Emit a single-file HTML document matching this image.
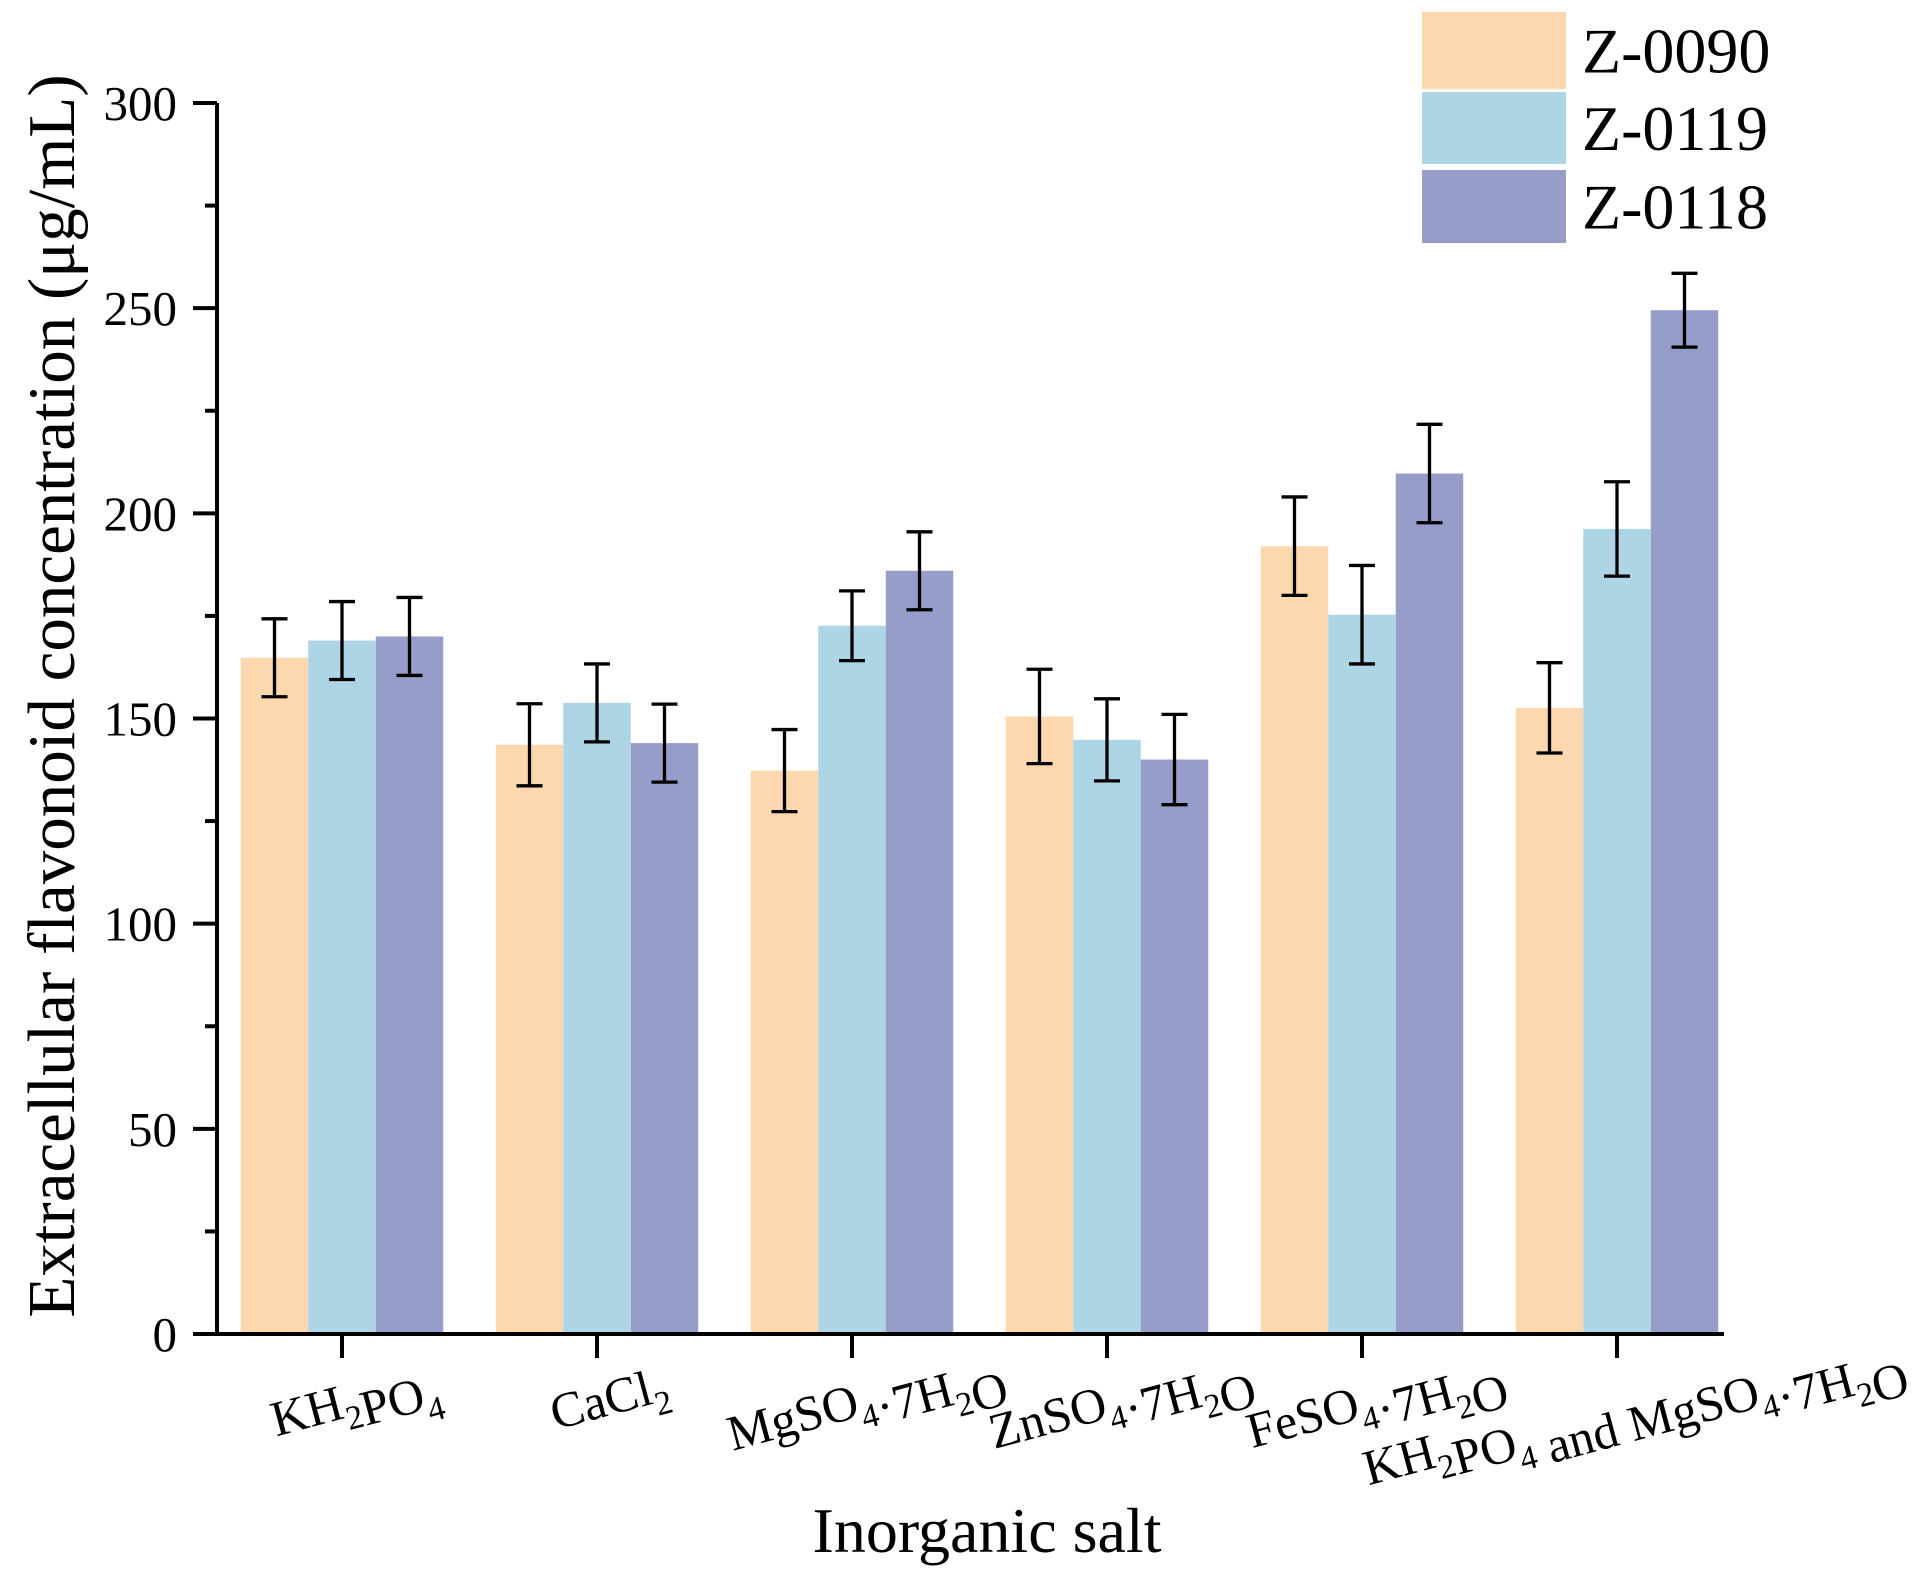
<!DOCTYPE html>
<html><head><meta charset="utf-8"><style>
html,body{margin:0;padding:0;background:#fff;}
svg{display:block;font-family:"Liberation Serif",serif;}
</style></head><body>
<svg id="chart" width="1924" height="1576" viewBox="0 0 1924 1576"></svg>
<script>
const categories = ["KH2PO4","CaCl2","MgSO4·7H2O","ZnSO4·7H2O","FeSO4·7H2O","KH2PO4 and MgSO4·7H2O"];
const seriesNames = ["Z-0090","Z-0119","Z-0118"];
const z0090 = [164.8,143.6,137.3,150.5,192,152.6];
const z0119 = [169,153.8,172.6,144.8,175.3,196.2];
const z0118 = [170,144,186,140,209.7,249.5];
const err0090 = [9.5,10,10,11.5,12,11];
const err0119 = [9.5,9.5,8.5,10,12,11.5];
const err0118 = [9.5,9.5,9.5,11,12,9];
const yTicks = [0,50,100,150,200,250,300];

const NS="http://www.w3.org/2000/svg";
const svg=document.getElementById('chart');
const colors=["#FDD7AE","#AED5E6","#969DC8"];
const values=[z0090,z0119,z0118], errs=[err0090,err0119,err0118];
const X0=217,Y0=1334,Y300=103;
const y=v=>Y0-(v/300)*(Y0-Y300);
const gx=i=>342+i*255;
const BW=67.5;
function mk(tag,attrs,parent){const e=document.createElementNS(NS,tag);for(const k in attrs)e.setAttribute(k,attrs[k]);(parent||svg).appendChild(e);return e;}

values.forEach((arr,s)=>{arr.forEach((v,i)=>{
  const cx=gx(i)+(s-1)*BW;
  const r=mk('rect',{x:cx-BW/2,y:y(v),width:BW,height:Y0-y(v),fill:colors[s]});
  
  
});});
values.forEach((arr,s)=>{arr.forEach((v,i)=>{
  const cx=gx(i)+(s-1)*BW, e=errs[s][i];
  const g=mk('g',{stroke:'#000','stroke-width':3.3,fill:'none'});
  
  
  mk('line',{x1:cx,x2:cx,y1:y(v+e),y2:y(v-e)},g);
  mk('line',{x1:cx-13,x2:cx+13,y1:y(v+e),y2:y(v+e)},g);
  mk('line',{x1:cx-13,x2:cx+13,y1:y(v-e),y2:y(v-e)},g);
});});
const ax=mk('g',{stroke:'#000','stroke-width':4});


mk('line',{x1:X0,x2:X0,y1:Y300,y2:Y0+2},ax);
mk('line',{x1:193,x2:1724,y1:Y0,y2:Y0},ax);
for(let v=0;v<=300;v+=25){
  mk('line',{x1:v%50===0?193:205,x2:X0,y1:y(v),y2:y(v)},ax);
}
yTicks.forEach(v=>{
  const t=mk('text',{x:177,y:y(v)+17,'text-anchor':'end','font-size':49,fill:'#000'});
  t.textContent=v;
  
  
});
categories.forEach((c,i)=>{
  mk('line',{x1:gx(i),x2:gx(i),y1:Y0,y2:Y0+24},ax);
  const cx=gx(i)+12, cy=1398;
  const t=mk('text',{x:cx,y:cy+17,'text-anchor':'middle','font-size':50,fill:'#000',transform:`rotate(-15 ${cx} ${cy})`});
  
  
  const parts=c.match(/(·7|\d+|[^\d·]+|·)/g);
  parts.forEach(p=>{
    if(/^\d+$/.test(p)){
      const sp=mk('tspan',{'font-size':34,dy:13},t);sp.textContent=p;
      const back=mk('tspan',{dy:-13},t);back.textContent='';
    } else {const sp=mk('tspan',{},t);sp.textContent=p;}
  });
});
const yt=mk('text',{x:0,y:0,'text-anchor':'middle','font-size':67,fill:'#000',transform:'translate(74 696) rotate(-90)'});
yt.textContent='Extracellular flavonoid concentration (μg/mL)';


const xt=mk('text',{x:987,y:1552,'text-anchor':'middle','font-size':64,fill:'#000'});
xt.textContent='Inorganic salt';


const legY=[[12,89],[92,164],[170,243]];
seriesNames.forEach((n,s)=>{
  const g=mk('g',{});
  
  
  mk('rect',{x:1422,y:legY[s][0],width:144,height:legY[s][1]-legY[s][0],fill:colors[s]},g);
  const t=mk('text',{x:1582,y:(legY[s][0]+legY[s][1])/2+22,'font-size':64,fill:'#000'},g);
  t.textContent=n;
});
</script>
</body></html>
